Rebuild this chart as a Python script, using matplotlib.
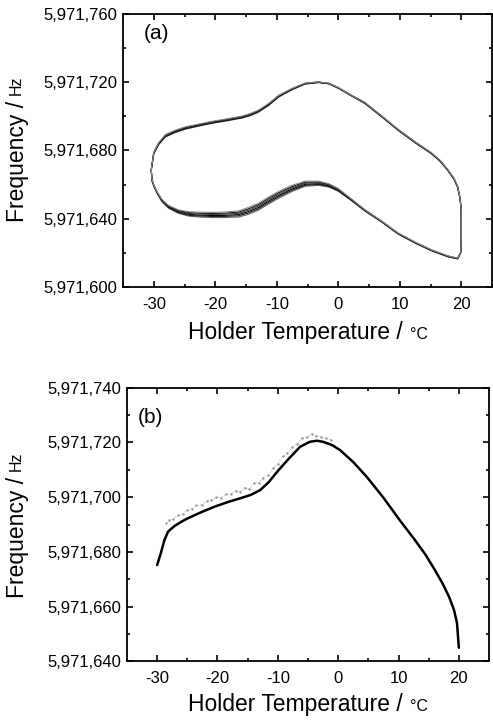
import matplotlib
matplotlib.use("Agg")
import matplotlib.pyplot as plt
from matplotlib.ticker import MultipleLocator, FuncFormatter
import numpy as np

plt.rcParams['font.family'] = ['Liberation Sans', 'DejaVu Sans']

BASE = 5971000

# ---------- panel (a): hysteresis loop, several cycles ----------
up_x = [-30.4, -30.0, -29.2, -28.1, -26.5, -24.8, -22.5, -20.5, -18.0, -15.6, -14.3, -13.0,
        -11.3, -9.7, -7.5, -5.4, -3.2, -1.5, 0.0, 2.0, 4.3, 7.0, 9.7, 12.5, 15.1, 16.6, 17.8,
        18.8, 19.4, 19.8, 20.0, 20.0, 19.9, 19.4]
up_f = [668.6, 678.5, 684.0, 688.6, 691.2, 693.2, 695.0, 696.5, 698.0, 699.6, 701.0, 703.0,
        707.0, 711.8, 716.0, 719.2, 720.0, 719.2, 716.7, 712.5, 707.9, 700.2, 692.2, 684.8,
        678.5, 673.8, 668.6, 663.5, 658.8, 652.0, 645.0, 627.5, 620.0, 616.7]
up_spread = [0.2, 0.4, 0.6, 0.7, 0.7, 0.7, 0.6, 0.6, 0.6, 0.6, 0.6, 0.6,
             0.6, 0.5, 0.4, 0.3, 0.2, 0.2, 0.2, 0.2, 0.3, 0.3, 0.3, 0.3, 0.3, 0.3, 0.3,
             0.3, 0.3, 0.2, 0.2, 0.2, 0.2, 0.2]

lo_x = [19.4, 17.8, 15.1, 12.5, 9.7, 7.0, 4.3, 2.0, 0.0, -1.5, -3.2, -5.4, -7.5, -9.7,
        -11.5, -13.0, -14.6, -16.2, -18.5, -20.5, -22.5, -24.3, -26.0, -27.6, -28.7,
        -29.4, -30.0, -30.3, -30.4]
lo_f = [616.7, 618.0, 621.6, 626.0, 631.4, 638.5, 645.0, 651.5, 656.9, 659.5, 660.8,
        660.5, 657.8, 654.0, 650.3, 647.0, 644.6, 642.8, 642.3, 642.2, 642.4, 642.8,
        644.2, 647.0, 650.8, 655.0, 659.5, 662.8, 668.6]
lo_spread = [0.2, 0.3, 0.3, 0.3, 0.3, 0.3, 0.4, 0.5, 0.8, 1.0, 1.2, 1.5, 1.8, 2.0,
             2.0, 2.0, 2.0, 1.8, 1.6, 1.5, 1.4, 1.3, 1.0, 0.8, 0.6, 0.5, 0.4, 0.3, 0.2]

cycle_shift = [-1.0, -0.6, -0.2, 0.2, 0.6, 1.0]
cycle_color = ['#666666', '#222222', '#000000', '#444444', '#111111', '#888888']

# ---------- panel (b): single averaged curve + noisy points ----------
b_x = [-30.0, -29.4, -28.8, -28.2, -27.1, -26.0, -24.9, -22.7, -20.5, -18.3, -16.2, -14.5,
       -12.9, -11.5, -10.1, -8.2, -6.3, -4.7, -3.5, -2.5, -1.0, 0.3, 2.5, 4.7, 7.5, 10.2,
       12.5, 14.5, 16.0, 17.3, 18.4, 19.2, 19.7, 19.9, 20.0]
b_f = [675.2, 679.5, 684.3, 687.4, 689.5, 691.0, 692.3, 694.5, 696.5, 698.2, 699.6, 700.8,
       702.6, 705.5, 709.3, 714.0, 718.4, 720.2, 720.6, 720.2, 719.0, 717.2, 712.8, 707.5,
       699.8, 691.6, 685.0, 678.9, 673.5, 668.5, 663.5, 658.8, 654.0, 648.0, 645.0]

dots_x = [-28.5, -28.0, -27.3, -26.5, -25.8, -25.0, -24.2, -23.5, -22.6, -21.8, -21.0, -20.2,
          -19.4, -18.6, -17.8, -17.0, -16.2, -15.5, -14.7, -14.0, -13.2, -12.4, -11.6, -10.8,
          -10.0, -9.2, -8.4, -7.6, -6.8, -6.0, -5.2, -4.4, -3.6, -2.8, -2.0, -1.2]
dots_f = [690.5, 691.5, 692.0, 693.6, 693.9, 695.3, 695.8, 697.0, 697.2, 698.5, 698.8, 699.9,
          699.8, 701.2, 701.0, 702.4, 702.0, 703.5, 702.9, 705.0, 705.2, 707.1, 708.0, 710.6,
          712.2, 714.9, 716.1, 718.4, 719.5, 721.6, 721.9, 723.0, 722.4, 722.1, 721.5, 720.9]

x_ticks = [-30, -20, -10, 0, 10, 20]

fig = plt.figure(figsize=(4.93, 7.20), dpi=100)
ax_a = fig.add_axes([0.2495, 0.6014, 0.7485, 0.3792])
ax_b = fig.add_axes([0.2576, 0.0813, 0.7343, 0.3804])

# panel a lines
for s, c in zip(cycle_shift, cycle_color):
    xs = up_x + lo_x
    fs = [BASE + f + s * d for f, d in zip(up_f, up_spread)] + \
         [BASE + f + s * d for f, d in zip(lo_f, lo_spread)]
    ax_a.plot(xs, fs, color=c, lw=0.8, solid_joinstyle='round')

# panel b
ax_b.plot(dots_x, [BASE + f for f in dots_f], color='#999999', lw=0.6, ls=':',
          marker='.', ms=1.5, mec='#999999', mfc='#999999')
ax_b.plot(b_x, [BASE + f for f in b_f], color='black', lw=1.8, solid_capstyle='round',
          solid_joinstyle='round')

fmt = FuncFormatter(lambda v, p: f"{v:,.0f}")

def style(ax, ylo, yhi, ymaj, ymin):
    ax.set_xlim(-35, 25)
    ax.set_ylim(BASE + ylo, BASE + yhi)
    ax.set_xticks(x_ticks)
    ax.xaxis.set_minor_locator(MultipleLocator(5))
    ax.yaxis.set_major_locator(MultipleLocator(ymaj))
    ax.yaxis.set_minor_locator(MultipleLocator(ymin))
    ax.yaxis.set_major_formatter(fmt)
    ax.xaxis.set_major_formatter(FuncFormatter(lambda v, p: f"{v:.0f}".replace('\u2212', '-')))
    ax.tick_params(which='both', direction='in', top=True, right=True, labelsize=12,
                   width=1.2, colors='black')
    ax.tick_params(which='major', length=4)
    ax.tick_params(which='minor', length=2.5)
    ax.tick_params(axis='x', pad=7)
    ax.tick_params(axis='y', pad=4)
    for sp in ax.spines.values():
        sp.set_linewidth(1.3)

style(ax_a, 600, 760, 40, 20)
style(ax_b, 640, 740, 20, 10)

ax_a.text(0.055, 0.93, "(a)", transform=ax_a.transAxes, fontsize=15, va='center', ha='left')
ax_b.text(0.03, 0.89, "(b)", transform=ax_b.transAxes, fontsize=15, va='center', ha='left')

# axis labels with smaller unit text
def ylab(ycenter_px):
    xpx = 18
    main = "Frequency / "
    t = fig.text(xpx / 493, 0, main, rotation=90, fontsize=16.5, ha='center', va='bottom')
    fig.canvas.draw()
    r = fig.canvas.get_renderer()
    bb1 = t.get_window_extent(r)
    t2 = fig.text(xpx / 493, 0, "Hz", rotation=90, fontsize=11.5, ha='center', va='bottom')
    bb2 = t2.get_window_extent(r)
    total = bb1.height + bb2.height
    y0 = (720 - ycenter_px) - total / 2
    t.set_position(((xpx + 0.0) / 493, y0 / 720))
    t2.set_position(((xpx - 1.5) / 493, (y0 + bb1.height) / 720))

def xlab(xcenter_px, ycenter_px):
    t = fig.text(0, 0, "Holder Temperature / ", fontsize=16.5, ha='left', va='center')
    fig.canvas.draw()
    r = fig.canvas.get_renderer()
    bb1 = t.get_window_extent(r)
    t2 = fig.text(0, 0, "\u00b0C", fontsize=11.5, ha='left', va='center')
    bb2 = t2.get_window_extent(r)
    total = bb1.width + bb2.width
    x0 = xcenter_px - total / 2
    yfig = (720 - ycenter_px) / 720
    t.set_position((x0 / 493, yfig))
    t2.set_position(((x0 + bb1.width) / 493, yfig - 1.5 / 720))

ylab(149)
ylab(525)
xlab(308, 333)
xlab(308, 705)

fig.savefig("out.png", dpi=100)
